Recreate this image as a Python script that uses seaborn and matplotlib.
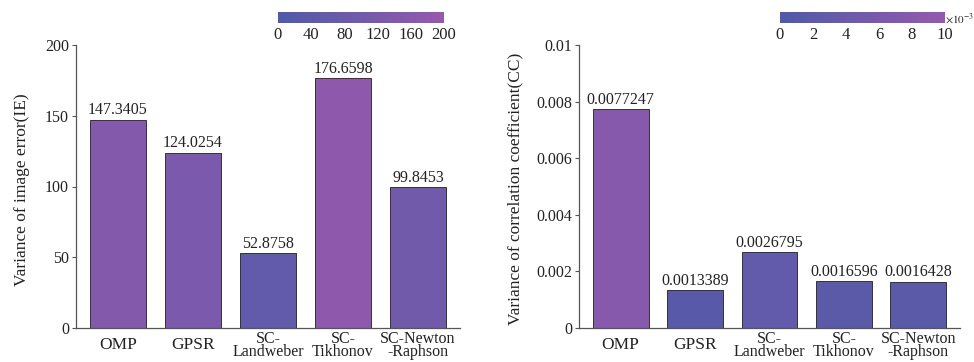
import numpy as np
import pandas as pd
import matplotlib
matplotlib.use("Agg")
import matplotlib.pyplot as plt
from matplotlib.colors import LinearSegmentedColormap, Normalize
import matplotlib.cm as cm
import seaborn as sns

# --- data ---
methods = ["OMP", "GPSR", "SC-\nLandweber", "SC-\nTikhonov", "SC-Newton\n-Raphson"]
ie_values = [147.3405, 124.0254, 52.8758, 176.6598, 99.8453]
ie_labels = ["147.3405", "124.0254", "52.8758", "176.6598", "99.8453"]
cc_values = [0.0077247, 0.0013389, 0.0026795, 0.0016596, 0.0016428]
cc_labels = ["0.0077247", "0.0013389", "0.0026795", "0.0016596", "0.0016428"]
ie_yticks = [0, 50, 100, 150, 200]
cc_yticks = [0, 0.002, 0.004, 0.006, 0.008, 0.01]
cc_ytick_labels = ["0", "0.002", "0.004", "0.006", "0.008", "0.01"]
ie_cbar_ticks = [0, 40, 80, 120, 160, 200]
cc_cbar_ticks = [0, 2, 4, 6, 8, 10]

sns.set_theme(style="white")
plt.rcParams["font.family"] = ["Liberation Serif", "DejaVu Serif"]
plt.rcParams["mathtext.fontset"] = "stix"

cmap = LinearSegmentedColormap.from_list("bp", ["#4f5aa8", "#9659ae"])
text_col = "#222222"
spine_col = "#555555"

fig = plt.figure(figsize=(9.74, 3.62), dpi=100)
W, H = 974, 362


def px_axes(x0, y0, x1, y1):
    return fig.add_axes([x0 / W, 1 - y1 / H, (x1 - x0) / W, (y1 - y0) / H])


def draw_panel(ax, values, labels, vmax, yticks, yticklabels, ylabel, ylab_x):
    norm = Normalize(0, vmax)
    colors = [cmap(norm(v)) for v in values]
    df = pd.DataFrame({"method": methods, "value": values})
    sns.barplot(data=df, x="method", y="value", hue="method",
                palette=colors, legend=False, width=0.75, ax=ax,
                edgecolor="#333333", linewidth=0.7, saturation=1)
    ax.set_xlim(-0.56, 4.56)
    ax.set_ylim(0, vmax)
    ax.set_yticks(yticks)
    ax.set_yticklabels(yticklabels)
    for sp in ["top", "right"]:
        ax.spines[sp].set_visible(False)
    for sp in ["left", "bottom"]:
        ax.spines[sp].set_color(spine_col)
        ax.spines[sp].set_linewidth(0.9)
    ax.tick_params(axis="y", length=3, width=0.8, color=spine_col,
                   labelsize=11.5, labelcolor=text_col, pad=2, left=True)
    # category labels centred vertically on a common line below the axis
    ax.tick_params(axis="x", length=0, pad=12.5, labelcolor=text_col)
    for t in ax.get_xticklabels():
        t.set_va("center")
        if "\n" in t.get_text():
            t.set_fontsize(11.5)
            t.set_linespacing(0.8)
        else:
            t.set_fontsize(12.5)
    ax.set_xlabel("")
    ax.set_ylabel(ylabel, fontsize=12.5, color=text_col)
    ax.yaxis.set_label_coords(ylab_x, 0.49)
    for i, (v, lab) in enumerate(zip(values, labels)):
        ax.text(i, v + vmax * 0.004, lab, ha="center", va="bottom",
                fontsize=11.5, color=text_col)
    return norm


def draw_cbar(cax, norm, ticks, ticklabels):
    cb = fig.colorbar(cm.ScalarMappable(norm=norm, cmap=cmap), cax=cax,
                      orientation="horizontal")
    cb.outline.set_visible(False)
    cb.set_ticks(ticks)
    cb.set_ticklabels(ticklabels)
    cax.tick_params(length=0, labelsize=12, labelcolor=text_col, pad=3)
    return cb


# left panel: variance of image error
ax1 = px_axes(76, 45, 460, 328)
norm1 = draw_panel(ax1, ie_values, ie_labels, 200, ie_yticks,
                   [str(t) for t in ie_yticks],
                   "Variance of image error(IE)", -0.12)
cax1 = px_axes(278, 12, 444, 23)
draw_cbar(cax1, norm1, ie_cbar_ticks, [str(t) for t in ie_cbar_ticks])

# right panel: variance of correlation coefficient
ax2 = px_axes(579, 45, 960, 328)
norm2 = draw_panel(ax2, cc_values, cc_labels, 0.01, cc_yticks,
                   cc_ytick_labels,
                   "Variance of correlation coefficient(CC)", -0.147)
cax2 = px_axes(780, 12, 945, 23)
draw_cbar(cax2, norm2, [t * 1e-3 for t in cc_cbar_ticks],
          [str(t) for t in cc_cbar_ticks])
cax2.text(1.003, 1.1, r"$\times10^{-3}$", transform=cax2.transAxes,
          ha="left", va="top", fontsize=8, color=text_col)

fig.savefig("out.png", dpi=100)
